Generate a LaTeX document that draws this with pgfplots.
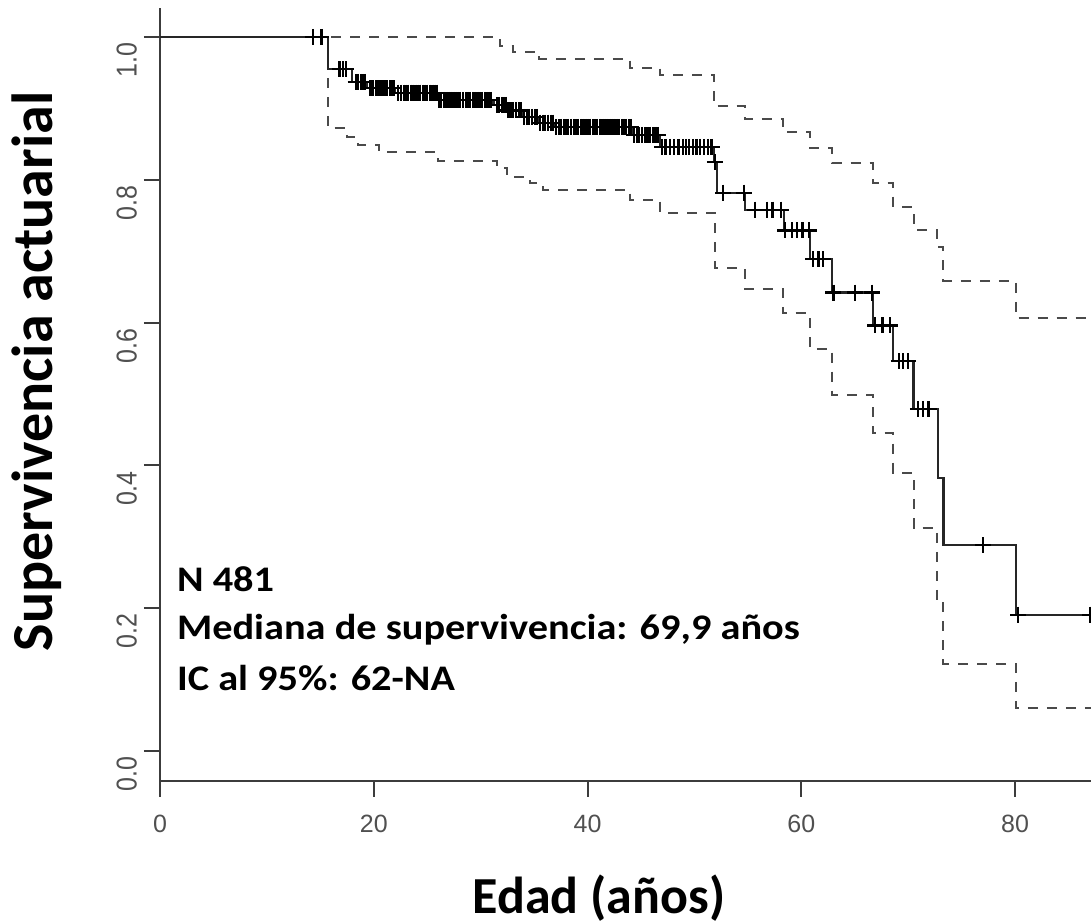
\documentclass[border=0pt]{standalone}
\usepackage{pgfplots}
\pgfplotsset{compat=1.18}
\usepackage{fontspec}
\setmainfont{Carlito}
\newfontfamily\arialf{Liberation Sans}
\newfontfamily\annotfont[FakeStretch=1.12]{Carlito}
\definecolor{axgray}{HTML}{3C3C3C}
\definecolor{lblgray}{HTML}{505050}
\definecolor{cigray}{HTML}{4A4A4A}

\pgfplotstableread{
x y
0 1.0
15.7 0.955
18.0 0.937
19.4 0.928
22.0 0.922
26.0 0.912
31.2 0.905
32.5 0.897
34.0 0.888
35.5 0.880
37.0 0.874
44.2 0.863
46.8 0.846
51.8 0.825
52.1 0.782
54.7 0.758
58.4 0.729
60.8 0.689
62.9 0.642
66.7 0.596
68.6 0.546
70.5 0.479
72.8 0.382
73.3 0.288
80.1 0.191
87.1 0.191
}\kmmain

\pgfplotstableread{
x y
0 1.0
31.8 0.987
33.0 0.979
35.5 0.969
44.0 0.957
46.8 0.947
51.8 0.903
54.7 0.885
58.3 0.867
60.8 0.845
62.9 0.823
66.7 0.795
68.6 0.762
70.5 0.730
72.7 0.706
73.3 0.658
80.1 0.606
87.1 0.606
}\kmupper

\pgfplotstableread{
x y
0 1.0
15.7 0.872
17.5 0.860
18.5 0.849
20.5 0.839
26.0 0.826
31.5 0.817
32.5 0.804
34.6 0.795
35.8 0.786
44.0 0.772
46.8 0.754
51.9 0.677
54.7 0.647
58.3 0.613
60.8 0.563
62.9 0.499
66.7 0.445
68.6 0.390
70.5 0.312
72.7 0.211
73.3 0.1225
80.1 0.060
87.1 0.060
}\kmlower

\pgfplotstableread{
x y
14.3 1.0
15.1 1.0
16.8 0.955
17.1 0.955
17.4 0.955
18.3 0.937
18.55 0.937
18.8 0.937
19.0 0.937
19.2 0.937
19.7 0.928
19.95 0.928
20.2 0.928
20.4 0.928
20.6 0.928
20.8 0.928
21.0 0.928
21.25 0.928
21.5 0.928
21.7 0.928
21.9 0.928
22.3 0.922
22.55 0.922
22.8 0.922
23.0 0.922
23.2 0.922
23.45 0.922
23.7 0.922
23.9 0.922
24.1 0.922
24.35 0.922
24.6 0.922
24.8 0.922
25.0 0.922
25.25 0.922
25.5 0.922
25.7 0.922
25.9 0.922
26.1 0.912
26.3 0.912
26.55 0.912
26.8 0.912
27.0 0.912
27.2 0.912
27.45 0.912
27.7 0.912
27.9 0.912
28.1 0.912
28.35 0.912
28.6 0.912
28.8 0.912
29.0 0.912
29.25 0.912
29.5 0.912
29.7 0.912
29.9 0.912
30.15 0.912
30.4 0.912
30.6 0.912
30.8 0.912
31.0 0.912
31.5 0.905
31.75 0.905
32.0 0.905
32.2 0.905
32.4 0.905
32.6 0.897
32.8 0.897
33.05 0.897
33.3 0.897
33.55 0.897
33.8 0.897
34.05 0.888
34.3 0.888
34.55 0.888
34.8 0.888
35.05 0.888
35.3 0.888
35.55 0.880
35.8 0.880
36.05 0.880
36.3 0.880
36.55 0.880
36.8 0.880
37.05 0.874
37.3 0.874
37.55 0.874
37.8 0.874
38.0 0.874
38.2 0.874
38.45 0.874
38.7 0.874
38.9 0.874
39.1 0.874
39.35 0.874
39.6 0.874
39.8 0.874
40.0 0.874
40.25 0.874
40.5 0.874
40.7 0.874
40.9 0.874
41.15 0.874
41.4 0.874
41.6 0.874
41.8 0.874
42.05 0.874
42.3 0.874
42.5 0.874
42.7 0.874
42.95 0.874
43.2 0.874
43.4 0.874
43.6 0.874
43.85 0.874
44.1 0.874
44.35 0.863
44.6 0.863
44.85 0.863
45.1 0.863
45.35 0.863
45.6 0.863
45.85 0.863
46.1 0.863
46.35 0.863
46.6 0.863
47.0 0.846
47.3 0.846
47.7 0.846
48.1 0.846
48.5 0.846
48.9 0.846
49.2 0.846
49.5 0.846
49.85 0.846
50.2 0.846
50.55 0.846
50.9 0.846
51.25 0.846
51.6 0.846
51.9 0.825
52.7 0.782
54.6 0.782
55.7 0.758
56.8 0.758
57.3 0.758
58.1 0.758
58.5 0.729
59.1 0.729
59.6 0.729
60.1 0.729
60.7 0.729
61.1 0.689
61.6 0.689
62.0 0.689
63.0 0.642
65.0 0.642
66.6 0.642
66.9 0.596
67.6 0.596
68.3 0.596
69.1 0.546
69.5 0.546
70.0 0.546
70.9 0.479
71.4 0.479
71.9 0.479
77.0 0.288
80.3 0.191
87.0 0.191
}\kmcens

\begin{document}
\begin{tikzpicture}
\begin{axis}[
  scale only axis, width=465.5pt, height=386.3pt,
  xmin=0, xmax=87.1, ymin=-0.042, ymax=1.04,
  axis x line*=bottom, axis y line*=left,
  axis line style={axgray, line width=1pt, -},
  xtick={0,20,40,60,80},
  ytick={0,0.2,0.4,0.6,0.8,1.0},
  yticklabels={\scalebox{1}[1.15]{0.0},\scalebox{1}[1.15]{0.2},\scalebox{1}[1.15]{0.4},\scalebox{1}[1.15]{0.6},\scalebox{1}[1.15]{0.8},\scalebox{1}[1.15]{1.0}},
  tick align=outside, major tick length=8pt,
  tick style={axgray, line width=1pt},
  ticklabel style={font=\arialf\fontsize{12.5}{15}\selectfont, text=lblgray},
  yticklabel style={rotate=90, anchor=south, xshift=-11.6pt},
  xticklabel style={anchor=north, yshift=-5.5pt},
  /pgf/number format/assume math mode=true,
  ylabel={Supervivencia actuarial},
  ylabel style={at={(rel axis cs:-0.132,0.530)}, anchor=center, font=\bfseries\fontsize{29}{35}\selectfont},
  xlabel={Edad (años)},
  xlabel style={at={(rel axis cs:0.4715,-0.1709)}, anchor=base, font=\bfseries\fontsize{26}{31}\selectfont},
]
\addplot[const plot, cigray, line width=1pt, dash pattern=on 5pt off 4.5pt] table[x=x,y=y] {\kmupper};
\addplot[const plot, cigray, line width=1pt, dash pattern=on 5pt off 4.5pt] table[x=x,y=y] {\kmlower};
\addplot[const plot, black!85, line width=1.1pt] table[x=x,y=y] {\kmmain};
\addplot[only marks, mark=+, mark size=4pt, black, mark options={line width=1.1pt}] table[x=x,y=y] {\kmcens};
\node[anchor=base west, inner sep=0pt, font=\annotfont\bfseries\fontsize{18}{20}\selectfont] at (axis cs:1.56,0.223) {N 481};
\node[anchor=base west, inner sep=0pt, font=\annotfont\bfseries\fontsize{18}{20}\selectfont] at (axis cs:1.56,0.1555) {Mediana de supervivencia: 69,9 años};
\node[anchor=base west, inner sep=0pt, font=\annotfont\bfseries\fontsize{18}{20}\selectfont] at (axis cs:1.56,0.0854) {IC al 95\%: 62-NA};
\end{axis}
\pgfresetboundingbox
\path[use as bounding box] ([shift={(-80pt,-71.5pt)}]current axis.south west) rectangle ([shift={(0pt,4.2pt)}]current axis.north east);
\end{tikzpicture}
\end{document}
